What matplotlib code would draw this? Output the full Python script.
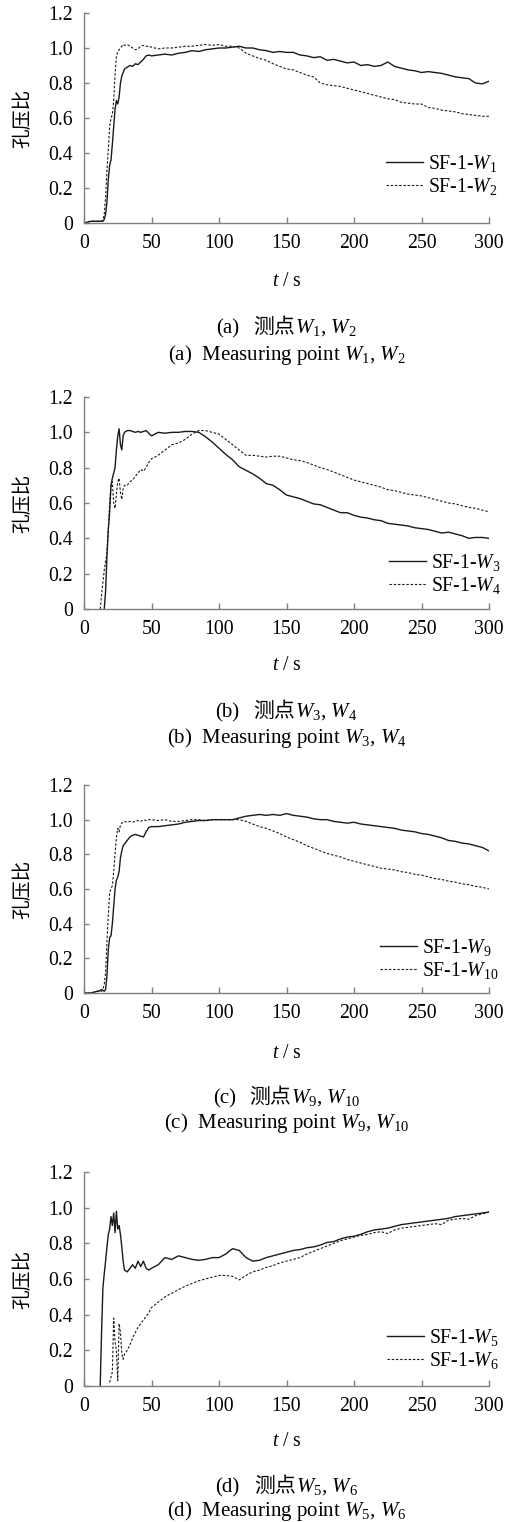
import matplotlib
matplotlib.use("Agg")
import matplotlib.pyplot as plt
import numpy as np

plt.rcParams['font.family'] = ['Liberation Serif', 'Noto Sans CJK SC']
plt.rcParams['mathtext.fontset'] = 'custom'
plt.rcParams['mathtext.rm'] = 'Liberation Serif'
plt.rcParams['mathtext.it'] = 'Liberation Serif:italic'

nan = np.nan

# time grid (s)
t = np.r_[0, 5, 10, np.arange(11, 31), np.arange(32, 51, 2), np.arange(55, 301, 5)]

# (a) W1, W2
w1 = [0.0, 0.01, 0.01,
      0.01, 0.01, 0.01, 0.01, 0.02, 0.05, 0.12, 0.25, 0.33, 0.36, 0.45, 0.55, 0.65, 0.7, 0.68, 0.72, 0.8, 0.84, 0.86, 0.88,
      0.89, 0.9, 0.895, 0.91, 0.905, 0.92, 0.935, 0.955, 0.96, 0.955,
      0.96, 0.965, 0.96, 0.97, 0.975, 0.985, 0.98, 0.99, 0.995, 1.0,
      1.0, 1.005, 1.01, 1.0, 1.0, 0.99, 0.985, 0.975, 0.98, 0.975,
      0.975, 0.96, 0.955, 0.945, 0.95, 0.93, 0.935, 0.925, 0.915, 0.92,
      0.9, 0.905, 0.895, 0.9, 0.92, 0.895, 0.885, 0.875, 0.87, 0.86,
      0.865, 0.86, 0.855, 0.845, 0.835, 0.83, 0.825, 0.8, 0.795, 0.81]
w2 = [0.0, 0.01, 0.01,
      0.01, 0.01, 0.01, 0.02, 0.05, 0.15, 0.3, 0.42, 0.55, 0.6, 0.62, 0.7, 0.85, 0.95, 0.98, 0.99, 1.0, 1.01, 1.02, 1.015,
      1.02, 1.01, 1.0, 0.99, 0.995, 1.01, 1.015, 1.01, 1.01, 1.005,
      0.995, 1.0, 1.0, 1.005, 1.01, 1.01, 1.015, 1.02, 1.015, 1.02,
      1.01, 1.01, 1.0, 0.97, 0.955, 0.94, 0.93, 0.91, 0.895, 0.88,
      0.875, 0.86, 0.845, 0.835, 0.8, 0.79, 0.785, 0.78, 0.77, 0.76,
      0.75, 0.74, 0.73, 0.72, 0.71, 0.705, 0.69, 0.685, 0.68, 0.68,
      0.66, 0.655, 0.645, 0.64, 0.635, 0.625, 0.62, 0.615, 0.61, 0.61]

# (b) W3, W4
w3 = [nan, nan, nan,
      nan, nan, nan, nan, 0.0, 0.1, 0.3, 0.45, 0.55, 0.7, 0.74, 0.77, 0.8, 0.9, 0.98, 1.02, 0.93, 0.9, 0.98, 1.0,
      1.01, 1.01, 1.005, 1.0, 1.005, 1.0, 1.005, 1.01, 0.995, 0.98,
      1.0, 0.995, 1.0, 1.0, 1.005, 1.005, 1.0, 0.975, 0.945, 0.91,
      0.875, 0.845, 0.805, 0.785, 0.765, 0.74, 0.71, 0.7, 0.675, 0.645,
      0.635, 0.625, 0.61, 0.595, 0.59, 0.575, 0.56, 0.545, 0.545, 0.53,
      0.52, 0.515, 0.505, 0.5, 0.485, 0.48, 0.475, 0.47, 0.46, 0.455,
      0.45, 0.44, 0.43, 0.435, 0.425, 0.415, 0.4, 0.405, 0.405, 0.4]
w4 = [nan, nan, nan,
      nan, 0.0, 0.08, 0.15, 0.22, 0.27, 0.32, 0.45, 0.6, 0.7, 0.72, 0.6, 0.57, 0.65, 0.72, 0.74, 0.66, 0.62, 0.68, 0.7,
      0.7, 0.72, 0.73, 0.75, 0.77, 0.79, 0.78, 0.8, 0.83, 0.85,
      0.87, 0.9, 0.93, 0.94, 0.96, 0.99, 1.01, 1.01, 1.0, 0.99,
      0.96, 0.93, 0.9, 0.87, 0.87, 0.865, 0.86, 0.865, 0.865, 0.855,
      0.845, 0.84, 0.83, 0.815, 0.8, 0.79, 0.775, 0.76, 0.745, 0.73,
      0.72, 0.71, 0.7, 0.69, 0.675, 0.67, 0.66, 0.65, 0.645, 0.64,
      0.63, 0.62, 0.61, 0.6, 0.595, 0.585, 0.575, 0.57, 0.56, 0.55]

# (c) W9, W10
w9 = [0.0, 0.0, 0.01,
      0.01, 0.015, 0.02, 0.015, 0.01, 0.02, 0.1, 0.25, 0.32, 0.33, 0.4, 0.5, 0.6, 0.65, 0.67, 0.7, 0.78, 0.82, 0.85, 0.86,
      0.88, 0.9, 0.91, 0.915, 0.91, 0.905, 0.9, 0.93, 0.955, 0.96,
      0.96, 0.965, 0.97, 0.975, 0.985, 0.99, 0.995, 0.995, 1.0, 1.0,
      1.0, 1.0, 1.01, 1.02, 1.025, 1.03, 1.025, 1.03, 1.025, 1.035,
      1.025, 1.02, 1.015, 1.005, 1.0, 1.0, 0.99, 0.985, 0.98, 0.985,
      0.975, 0.97, 0.965, 0.96, 0.955, 0.95, 0.94, 0.935, 0.93, 0.92,
      0.915, 0.905, 0.895, 0.88, 0.875, 0.865, 0.86, 0.85, 0.84, 0.82]
w10 = [0.0, 0.0, 0.01,
       0.01, 0.01, 0.01, 0.02, 0.05, 0.12, 0.3, 0.45, 0.58, 0.6, 0.62, 0.7, 0.8, 0.9, 0.95, 0.93, 0.97, 0.98, 0.985, 0.99,
       0.985, 0.99, 0.985, 0.99, 0.995, 0.99, 1.0, 0.995, 1.0, 1.0,
       0.995, 1.0, 0.99, 0.99, 0.995, 1.0, 1.0, 0.995, 1.0, 1.0,
       1.0, 1.0, 1.0, 0.99, 0.975, 0.96, 0.95, 0.935, 0.92, 0.9,
       0.885, 0.87, 0.85, 0.835, 0.82, 0.805, 0.795, 0.785, 0.77, 0.76,
       0.75, 0.74, 0.73, 0.72, 0.715, 0.71, 0.7, 0.695, 0.685, 0.68,
       0.67, 0.66, 0.655, 0.645, 0.64, 0.63, 0.625, 0.615, 0.61, 0.6]

# (d) W5, W6
w5 = [nan, nan, nan,
      nan, 0.0, 0.3, 0.55, 0.63, 0.7, 0.78, 0.85, 0.88, 0.95, 0.9, 0.97, 0.86, 0.98, 0.88, 0.9, 0.85, 0.78, 0.7, 0.65,
      0.64, 0.66, 0.68, 0.66, 0.7, 0.67, 0.7, 0.66, 0.65, 0.66,
      0.68, 0.72, 0.71, 0.73, 0.72, 0.71, 0.705, 0.71, 0.72, 0.72,
      0.74, 0.77, 0.76, 0.72, 0.7, 0.705, 0.72, 0.73, 0.74, 0.75,
      0.76, 0.765, 0.775, 0.78, 0.79, 0.805, 0.81, 0.825, 0.835, 0.84,
      0.85, 0.865, 0.875, 0.88, 0.885, 0.895, 0.905, 0.91, 0.915, 0.92,
      0.925, 0.93, 0.935, 0.94, 0.95, 0.955, 0.96, 0.965, 0.97, 0.975]
w6 = [nan, nan, nan,
      nan, nan, nan, nan, nan, nan, nan, nan, 0.02, 0.05, 0.08, 0.38, 0.25, 0.2, 0.03, 0.35, 0.3, 0.18, 0.15, 0.18,
      0.2, 0.23, 0.27, 0.3, 0.33, 0.35, 0.37, 0.39, 0.41, 0.44,
      0.47, 0.5, 0.52, 0.54, 0.56, 0.575, 0.59, 0.6, 0.61, 0.62,
      0.62, 0.615, 0.595, 0.62, 0.64, 0.65, 0.665, 0.675, 0.69, 0.7,
      0.71, 0.72, 0.74, 0.755, 0.77, 0.785, 0.8, 0.815, 0.825, 0.835,
      0.845, 0.85, 0.86, 0.865, 0.855, 0.875, 0.885, 0.89, 0.895, 0.9,
      0.905, 0.91, 0.905, 0.93, 0.935, 0.94, 0.935, 0.955, 0.965, 0.975]

panels = [
    ("a", "1", "2", w1, w2),
    ("b", "3", "4", w3, w4),
    ("c", "9", "10", w9, w10),
    ("d", "5", "6", w5, w6),
]

yticks = [0, 0.2, 0.4, 0.6, 0.8, 1.0, 1.2]
ytick_labels = ["0", "0.2", "0.4", "0.6", "0.8", "1.0", "1.2"]
xticks = [0, 50, 100, 150, 200, 250, 300]

W, H = 522, 1522
fig = plt.figure(figsize=(W / 100, H / 100), dpi=100)
renderer = fig.canvas.get_renderer()


def W_(n):
    return r"$\mathit{W}_{\mathrm{%s}}$" % n


def mixed_line(xc_px, base_px, parts, fs, gaps):
    # place several text pieces side by side, centred on xc_px
    texts = []
    for s, fam in parts:
        texts.append(fig.text(0, 1 - base_px / H, s, family=fam, fontsize=fs, va="baseline"))
    widths = [tx.get_window_extent(renderer).width for tx in texts]
    total = sum(widths) + sum(gaps)
    x = xc_px - total / 2
    for k, tx in enumerate(texts):
        tx.set_x(x / W)
        x += widths[k] + (gaps[k] if k < len(gaps) else 0)


# layout in pixels
ax_left, ax_right = 84, 489
ax_tops = [13, 397, 785, 1172]
ax_bots = [223, 609, 993, 1386]
xlab_y = [282, 666, 1053, 1442]
cap1_y = [333, 717, 1103, 1492]
cap2_y = [360, 743, 1128, 1516]
leg_anchor = [(0.745, 0.23), (0.752, 0.167), (0.73, 0.163), (0.748, 0.172)]

fs = 14.2
cap_fs = 15.0
for i, (tag, a, b, s1, s2) in enumerate(panels):
    ax = fig.add_axes([ax_left / W, 1 - ax_bots[i] / H,
                       (ax_right - ax_left) / W, (ax_bots[i] - ax_tops[i]) / H])
    ax.plot(t, s1, color="#1a1a1a", lw=1.0, ls="-", label="SF-1-" + W_(a))
    ax.plot(t, s2, color="#1a1a1a", lw=0.8, ls=(0, (2.2, 1.6)), label="SF-1-" + W_(b))
    ax.set_xlim(0, 300)
    ax.set_ylim(0, 1.2)
    ax.set_xticks(xticks)
    ax.set_xticklabels([str(x) for x in xticks])
    ax.set_yticks(yticks)
    ax.set_yticklabels(ytick_labels)
    for sp in ["top", "right"]:
        ax.spines[sp].set_visible(False)
    for sp in ["left", "bottom"]:
        ax.spines[sp].set_color("#808080")
        ax.spines[sp].set_linewidth(1.0)
    ax.tick_params(axis="both", direction="in", color="#808080", width=1.0,
                   labelsize=fs)
    ax.tick_params(axis="x", length=4, pad=8)
    ax.tick_params(axis="y", length=3.5, pad=8)
    ax.legend(loc="center left", bbox_to_anchor=leg_anchor[i], frameon=False,
              fontsize=fs, handlelength=1.9, handletextpad=0.25,
              labelspacing=0.1, borderpad=0, borderaxespad=0)

    ymid = 1 - (ax_tops[i] + ax_bots[i]) / 2 / H
    fig.text(23 / W, ymid, "孔压比", rotation=90, ha="center", va="center",
             fontsize=14.2, family=["Noto Sans CJK SC"])
    xc = (ax_left + ax_right) / 2
    fig.text(xc / W, 1 - xlab_y[i] / H, r"$t$ / s", ha="center", va="center", fontsize=fs)
    mixed_line(xc, cap1_y[i],
               [("(%s)" % tag, ["Liberation Serif"]),
                ("测点", ["Noto Sans CJK SC"]),
                (W_(a) + ", " + W_(b), ["Liberation Serif"])],
               cap_fs, [14, 0])
    fig.text(xc / W, 1 - cap2_y[i] / H,
             "(%s)  Measuring point %s, %s" % (tag, W_(a), W_(b)),
             ha="center", va="baseline", fontsize=cap_fs)

fig.savefig("out.png", dpi=100)
